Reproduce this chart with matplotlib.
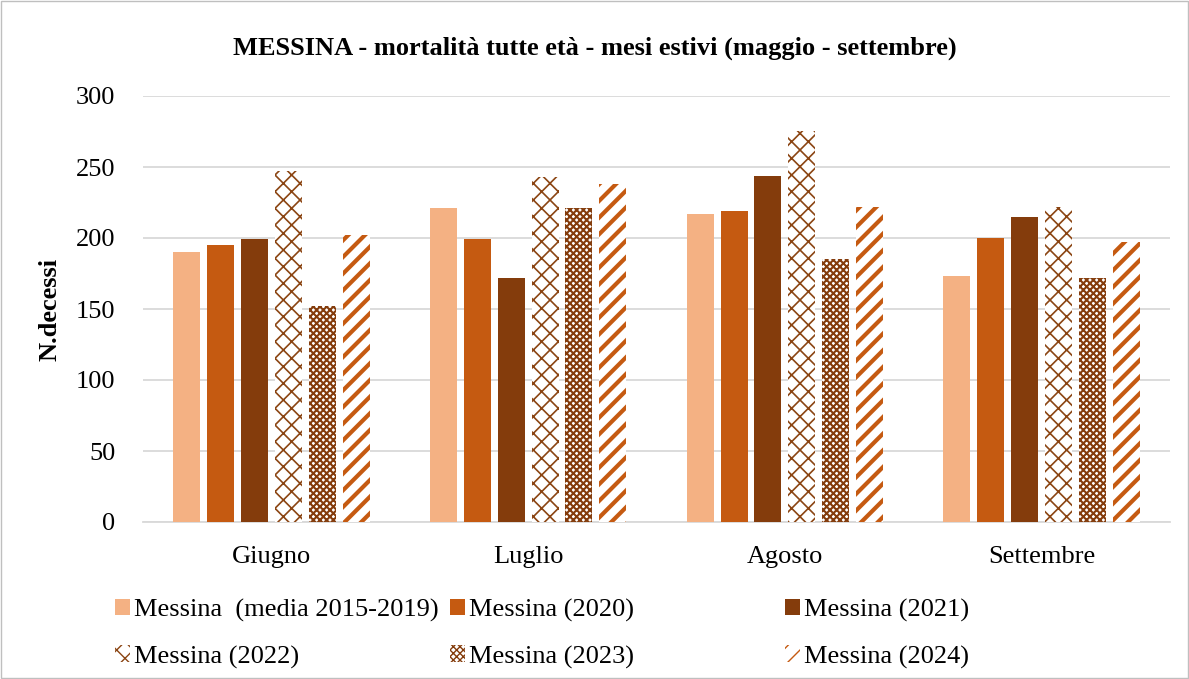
import numpy as np
import matplotlib.pyplot as plt
from matplotlib.patches import Rectangle

plt.rcParams['font.family'] = ['Liberation Serif', 'DejaVu Serif']

mesi = ['Giugno', 'Luglio', 'Agosto', 'Settembre']
media_2015_2019 = [190, 221, 217, 173]
anno_2020 = [195, 199, 219, 200]
anno_2021 = [199, 172, 244, 215]
anno_2022 = [247, 243, 275, 222]
anno_2023 = [152, 221, 185, 172]
anno_2024 = [202, 238, 222, 197]

serie = [
    ('Messina  (media 2015-2019)', media_2015_2019),
    ('Messina (2020)', anno_2020),
    ('Messina (2021)', anno_2021),
    ('Messina (2022)', anno_2022),
    ('Messina (2023)', anno_2023),
    ('Messina (2024)', anno_2024),
]

# colour, hatch, hatch linewidth
stili = [
    dict(color='#F4B183', edge='#F4B183', hatch=None, hlw=1),
    dict(color='#C55A11', edge='#C55A11', hatch=None, hlw=1),
    dict(color='#843C0C', edge='#843C0C', hatch=None, hlw=1),
    dict(color='white', edge='#8B4513', hatch='xx', hlw=1.2),
    dict(color='white', edge='#843C0C', hatch='xxxxx', hlw=1.5),
    dict(color='white', edge='#C55A11', hatch='//', hlw=3.0),
]

fig = plt.figure(figsize=(11.89, 6.79), dpi=100)
ax = fig.add_axes([143 / 1189, 1 - 522 / 679, (1170 - 143) / 1189, (522 - 96) / 679])

x = np.arange(len(mesi))
w = 0.105
step = 0.132
handles = []
for i, ((nome, vals), st) in enumerate(zip(serie, stili)):
    off = (i - 2.5) * step
    with plt.rc_context({'hatch.linewidth': st['hlw']}):
        b = ax.bar(x + off, vals, w, color=st['color'], edgecolor=st['edge'],
                   hatch=st['hatch'], linewidth=0, label=nome, zorder=3)
    handles.append(b)

ax.set_xlim(-0.5, 3.5)
ax.set_ylim(0, 300)
ax.set_yticks(range(0, 301, 50))
ax.yaxis.grid(True, color='#D9D9D9', linewidth=1.3, zorder=0)
for s in ['top', 'right', 'left']:
    ax.spines[s].set_visible(False)
ax.spines['bottom'].set_color('#D9D9D9')
ax.spines['bottom'].set_linewidth(1.3)
ax.tick_params(axis='both', length=0, labelsize=19)
ax.tick_params(axis='x', pad=17)
ax.tick_params(axis='y', pad=20)
ax.set_xticks(x)
ax.set_xticklabels(mesi)
ax.set_ylabel('N.decessi', fontsize=19, fontweight='bold', labelpad=10)

fig.text(0.5, 1 - 48 / 679, 'MESSINA - mortalità tutte età - mesi estivi (maggio - settembre)',
         ha='center', va='center', fontsize=19, fontweight='bold')

# legend: three columns, rows as in reference
colonne_x = [104, 439, 774]
for c in range(3):
    hs = [handles[c], handles[c + 3]]
    fig.legend(hs, [h.get_label() for h in hs], loc='upper left',
               bbox_to_anchor=(colonne_x[c] / 1189, 1 - 588 / 679),
               frameon=False, fontsize=19, handlelength=0.6, handleheight=0.6,
               handletextpad=0.15, labelspacing=0.9, borderaxespad=0)

fig.patches.append(Rectangle((0.001, 0.001), 0.998, 0.997, transform=fig.transFigure,
                             fill=False, edgecolor='#BFBFBF', linewidth=1))

fig.savefig('out.png', dpi=100)
